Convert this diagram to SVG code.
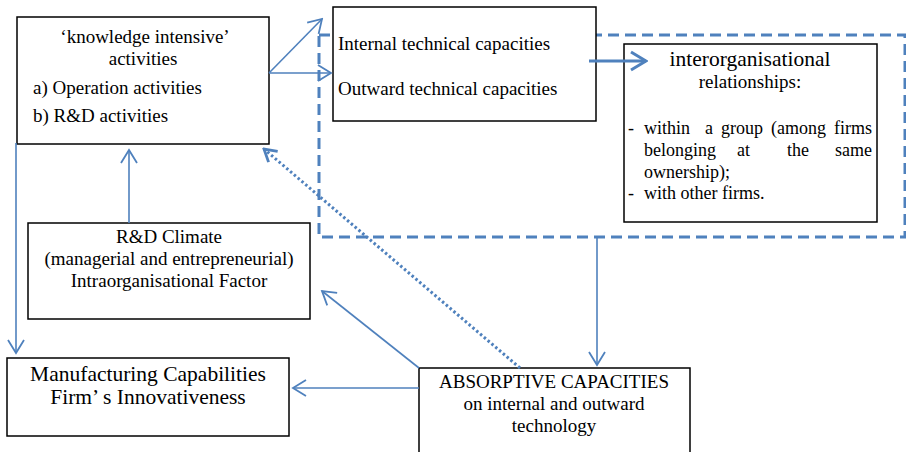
<svg xmlns="http://www.w3.org/2000/svg" width="906" height="452" viewBox="0 0 906 452">
<defs>
<style>
.box{fill:#fff;stroke:#000;stroke-width:1.5}
.t{font-family:"Liberation Serif","Times New Roman",serif;font-size:19px;fill:#000}
.s{font-size:18px}
.c{text-anchor:middle}
.e{text-anchor:end}
.ln{fill:none;stroke:#4F81BD;stroke-width:1.6}
.thick{fill:none;stroke:#4F81BD;stroke-width:3}
.dash{fill:none;stroke:#4F81BD;stroke-width:3;stroke-dasharray:11 6}
.dot{fill:none;stroke:#4F81BD;stroke-width:3;stroke-dasharray:2.5 2.5}
</style>
<marker id="ah" viewBox="-15 -10 17 20" markerWidth="17" markerHeight="20" refX="0" refY="0" orient="auto" markerUnits="userSpaceOnUse">
<path d="M-13,-8 L0,0 L-13,8" fill="none" stroke="#4F81BD" stroke-width="1.8"/>
</marker>
<marker id="ahT" viewBox="-18 -12 20 24" markerWidth="20" markerHeight="24" refX="0" refY="0" orient="auto" markerUnits="userSpaceOnUse">
<path d="M-15,-9 L0,0 L-15,9" fill="none" stroke="#4F81BD" stroke-width="3"/>
</marker>
<marker id="ahD" viewBox="-15 -10 17 20" markerWidth="17" markerHeight="20" refX="0" refY="0" orient="auto" markerUnits="userSpaceOnUse">
<path d="M-12,-7 L0,0 L-12,7" fill="none" stroke="#4F81BD" stroke-width="2.8"/>
</marker>
</defs>
<rect width="906" height="452" fill="#fff"/>

<g id="dashed-region">
<rect class="dash" x="319" y="35" width="586" height="202"/>
</g>

<g id="knowledge">
<rect class="box" x="17" y="17" width="252" height="127"/>
<text class="t c" x="145" y="43">‘knowledge intensive’</text>
<text class="t c" x="143" y="65">activities</text>
<text class="t" x="33" y="94">a) Operation activities</text>
<text class="t" x="33" y="122">b) R&amp;D activities</text>
</g>

<g id="technical">
<rect class="box" x="333" y="7" width="263" height="114"/>
<text class="t" x="338" y="50">Internal technical capacities</text>
<text class="t" x="338" y="95">Outward technical capacities</text>
</g>

<g id="interorg">
<rect class="box" x="624" y="44" width="253" height="178"/>
<text class="t c" x="750" y="66" style="font-size:21.5px">interorganisational</text>
<text class="t c" x="750" y="88">relationships:</text>
<text class="t s" x="628" y="134">-</text>
<text class="t s"><tspan x="644" y="134">within</tspan><tspan x="705" y="134">a</tspan><tspan x="721" y="134">group</tspan><tspan x="771" y="134">(among</tspan><tspan class="e" x="872" y="134">firms</tspan></text>
<text class="t s"><tspan x="644" y="156">belonging</tspan><tspan x="737" y="156">at</tspan><tspan x="787" y="156">the</tspan><tspan class="e" x="872" y="156">same</tspan></text>
<text class="t s" x="644" y="178">ownership);</text>
<text class="t s" x="628" y="199">-</text>
<text class="t s" x="644" y="199">with other firms.</text>
</g>

<g id="climate">
<rect class="box" x="28" y="223" width="282" height="96"/>
<text class="t c" x="169" y="243">R&amp;D Climate</text>
<text class="t c" x="169" y="265">(managerial and entrepreneurial)</text>
<text class="t c" x="169" y="287">Intraorganisational Factor</text>
</g>

<g id="manufacturing">
<rect class="box" x="7" y="358" width="282" height="78"/>
<text class="t c" x="148" y="381" style="font-size:21.5px">Manufacturing Capabilities</text>
<text class="t c" x="148" y="404" style="font-size:21.5px">Firm’ s Innovativeness</text>
</g>

<g id="absorptive">
<rect class="box" x="419" y="368" width="271" height="95"/>
<text class="t c" x="554" y="388">ABSORPTIVE CAPACITIES</text>
<text class="t c" x="554" y="410">on internal and outward</text>
<text class="t c" x="554" y="432">technology</text>
</g>

<g id="connectors">
<polyline class="ln" points="269,73 322,19" marker-end="url(#ah)"/>
<polyline class="ln" points="269,73 331,73" marker-end="url(#ah)"/>
<polyline class="thick" points="589,61 646,61" marker-end="url(#ahT)"/>
<polyline class="ln" points="129,223 129,150" marker-end="url(#ah)"/>
<polyline class="ln" points="16,143 16,353" marker-end="url(#ah)"/>
<polyline class="ln" points="597,237 597,365" marker-end="url(#ah)"/>
<polyline class="ln" points="419,368 322,291" marker-end="url(#ah)"/>
<polyline class="ln" points="419,388 293,388" marker-end="url(#ah)"/>
<polyline class="dot" points="520,368 264,149" marker-end="url(#ahD)"/>
</g>
</svg>
